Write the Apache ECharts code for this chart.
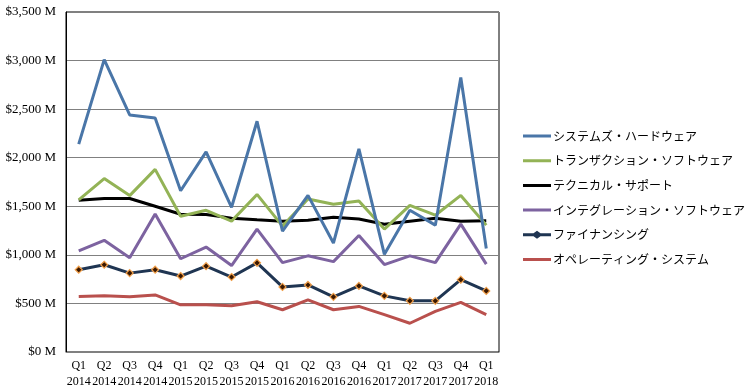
<!DOCTYPE html>
<html><head><meta charset="utf-8">
<script src="https://cdn.jsdelivr.net/npm/echarts@6/dist/echarts.min.js"></script>
<style>html,body{margin:0;padding:0;background:#fff}#c{width:750px;height:390px}</style>
</head><body><div id="c"></div>
<script>
var categories = ['Q1\n2014','Q2\n2014','Q3\n2014','Q4\n2014','Q1\n2015','Q2\n2015','Q3\n2015','Q4\n2015','Q1\n2016','Q2\n2016','Q3\n2016','Q4\n2016','Q1\n2017','Q2\n2017','Q3\n2017','Q4\n2017','Q1\n2018'];
var seriesNames = ['システムズ・ハードウェア','トランザクション・ソフトウェア','テクニカル・サポート','インテグレーション・ソフトウェア','ファイナンシング','オペレーティング・システム'];
var systemsHardware = [2140,3010,2440,2410,1660,2060,1490,2375,1245,1612,1122,2090,1005,1459,1306,2825,1065];
var transactionSoftware = [1565,1785,1610,1880,1398,1459,1347,1622,1296,1575,1520,1555,1265,1510,1408,1612,1306];
var technicalSupport = [1561,1580,1580,1500,1418,1415,1378,1362,1347,1357,1388,1370,1316,1347,1378,1347,1352];
var integrationSoftware = [1040,1150,970,1420,960,1080,890,1265,920,990,930,1200,900,990,920,1316,905];
var financing = [847,898,812,847,782,884,772,918,670,690,568,680,578,527,527,745,629];
var operatingSystems = [571,578,568,588,486,486,476,517,435,537,435,469,384,296,418,510,384];
var yTicks = [0,500,1000,1500,2000,2500,3000,3500];

var colors = ['#4a76a8','#93b356','#000000','#7d63a0','#1f3552','#b9504d'];
var data = [systemsHardware, transactionSoftware, technicalSupport, integrationSoftware, financing, operatingSystems];
var series = data.map(function(d, i){
  var s = {name: seriesNames[i], type:'line', data:d, smooth:false,
    lineStyle:{width:3, color:colors[i]}, itemStyle:{color:colors[i]},
    symbol:'none', showSymbol:false, z: 10 - i};
  if (i === 4) {
    s.symbol = 'diamond'; s.showSymbol = true; s.symbolSize = 7;
    s.itemStyle = {color:'#3a1800', borderColor:'#f2a04a', borderWidth:1.2};
  }
  return s;
});
var lineIcon = 'path://M0,0 L28,0 L28,0.01 Z M0,5.5 L28,5.5 L28,8.5 L0,8.5 Z M0,14 L28,14 L28,13.99 Z';
var finIcon = 'path://M0,0 L28,0 L28,0.01 Z M0,5.5 L10.5,5.5 L14,3 L17.5,5.5 L28,5.5 L28,8.5 L17.5,8.5 L14,11 L10.5,8.5 L0,8.5 Z M0,14 L28,14 L28,13.99 Z';
var chart = echarts.init(document.getElementById('c'), null, {renderer:'canvas'});
chart.setOption({
  animation:false,
  color: colors,
  grid:{left:66, top:12, width:433, height:343, show:true, borderColor:'#000', borderWidth:1, backgroundColor:'transparent'},
  legend:{orient:'vertical', left:518, top:124, itemGap:10.7, itemWidth:28, itemHeight:14,
    textStyle:{fontFamily:'Noto Sans CJK JP', fontSize:12, color:'#000', padding:[0,0,0,-3]},
    data: seriesNames.map(function(n, i){
      return {name:n, icon: i === 4 ? finIcon : lineIcon, itemStyle:{color:colors[i], borderWidth:0}};
    })
  },
  xAxis:{type:'category', data:categories, boundaryGap:true,
    axisLine:{lineStyle:{color:'#808080'}}, axisTick:{show:false},
    axisLabel:{fontFamily:'Liberation Serif', fontSize:12, color:'#000', lineHeight:16, margin:6, interval:0}},
  yAxis:{type:'value', min:0, max:3500, interval:500,
    axisLine:{show:true, lineStyle:{color:'#000'}}, axisTick:{show:false},
    splitLine:{lineStyle:{color:'#808080', width:1}},
    axisLabel:{fontFamily:'Liberation Serif', fontSize:13, color:'#000', margin:10,
      formatter:function(v){ return '$' + v.toLocaleString('en-US') + ' M'; }}},
  series: series
});
</script>
</body></html>
